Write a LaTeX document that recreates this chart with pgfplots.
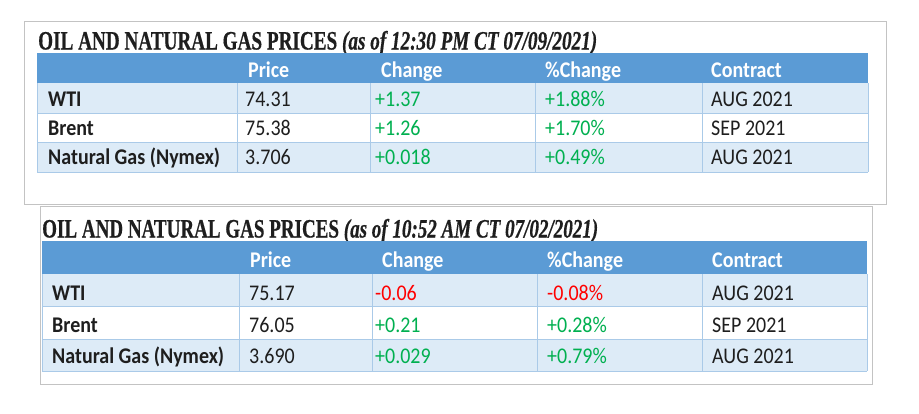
\documentclass[border=0pt]{standalone}
\usepackage{pgfplots}
\pgfplotsset{compat=1.18}
\usepackage{fontspec}
\setmainfont{Carlito}
\newfontfamily\titlefont[FakeBold=0.6]{Liberation Serif}
\definecolor{hdr}{RGB}{91,155,213}
\definecolor{rowb}{RGB}{221,235,247}
\definecolor{gridc}{RGB}{170,202,232}
\definecolor{posg}{RGB}{0,176,80}
\definecolor{negr}{RGB}{255,0,0}
\definecolor{txt}{RGB}{30,30,30}
\definecolor{framec}{RGB}{195,195,195}
\newcommand{\cf}[1]{\scalebox{1}[1.12]{\fontsize{20}{24}\selectfont #1}}
\newcommand{\ttl}[2]{\resizebox{#1}{\height}{\titlefont\fontsize{26.5}{30}\selectfont\bfseries OIL AND NATURAL GAS PRICES \itshape(as of #2)}}
\begin{document}
\begin{tikzpicture}
\begin{axis}[scale only axis, width=919pt, height=413pt, xmin=0, xmax=919, ymin=0, ymax=413,
  y dir=reverse, hide axis, clip=false]
\fill[white] (axis cs:0,0) rectangle (axis cs:919,413);
% ---------- top panel ----------
\draw[framec, line width=1pt] (axis cs:24,21) rectangle (axis cs:886,204);
\node[anchor=base west, inner sep=0pt, text=txt] at (axis cs:38,49.5) {\ttl{559pt}{12:30 PM CT 07/09/2021}};
\fill[hdr] (axis cs:37,53) rectangle (axis cs:868,83);
\fill[rowb] (axis cs:37,83) rectangle (axis cs:868,113);
\fill[white] (axis cs:37,113) rectangle (axis cs:868,142);
\fill[rowb] (axis cs:37,142) rectangle (axis cs:868,172);
\draw[gridc, line width=0.8pt] (axis cs:37,113) -- (axis cs:868,113);
\draw[gridc, line width=0.8pt] (axis cs:37,142) -- (axis cs:868,142);
\draw[gridc, line width=0.8pt] (axis cs:37,172) -- (axis cs:868,172);
\draw[gridc, line width=0.8pt] (axis cs:237,83) -- (axis cs:237,172);
\draw[gridc, line width=0.8pt] (axis cs:370,83) -- (axis cs:370,172);
\draw[gridc, line width=0.8pt] (axis cs:535,83) -- (axis cs:535,172);
\draw[gridc, line width=0.8pt] (axis cs:702,83) -- (axis cs:702,172);
\draw[gridc, line width=0.8pt] (axis cs:37,83) -- (axis cs:37,172);
\draw[gridc, line width=0.8pt] (axis cs:868,83) -- (axis cs:868,172);
\begin{scope}[every node/.style={anchor=base west, inner sep=0pt}]
\node[white] at (axis cs:248,77) {\cf{\bfseries Price}};
\node[white] at (axis cs:381,77) {\cf{\bfseries Change}};
\node[white] at (axis cs:545,77) {\cf{\bfseries \%Change}};
\node[white] at (axis cs:711,77) {\cf{\bfseries Contract}};
\node[txt] at (axis cs:48,106) {\cf{\bfseries WTI}};
\node[txt] at (axis cs:48,135) {\cf{\bfseries Brent}};
\node[txt] at (axis cs:48,164) {\cf{\bfseries Natural Gas (Nymex)}};
\node[txt] at (axis cs:245,106) {\cf{74.31}};
\node[txt] at (axis cs:245,135) {\cf{75.38}};
\node[txt] at (axis cs:245,164) {\cf{3.706}};
\node[posg] at (axis cs:375,106) {\cf{+1.37}};
\node[posg] at (axis cs:375,135) {\cf{+1.26}};
\node[posg] at (axis cs:375,164) {\cf{+0.018}};
\node[posg] at (axis cs:545,106) {\cf{+1.88\%}};
\node[posg] at (axis cs:545,135) {\cf{+1.70\%}};
\node[posg] at (axis cs:545,164) {\cf{+0.49\%}};
\node[txt] at (axis cs:711,106) {\cf{AUG 2021}};
\node[txt] at (axis cs:711,135) {\cf{SEP 2021}};
\node[txt] at (axis cs:711,164) {\cf{AUG 2021}};
\end{scope}
% ---------- bottom panel ----------
\draw[framec, line width=1pt] (axis cs:40,206) rectangle (axis cs:872,384);
\node[anchor=base west, inner sep=0pt, text=txt] at (axis cs:42,237.5) {\ttl{556pt}{10:52 AM CT 07/02/2021}};
\fill[hdr] (axis cs:42,241) rectangle (axis cs:867,274);
\fill[rowb] (axis cs:42,274) rectangle (axis cs:867,306);
\fill[white] (axis cs:42,306) rectangle (axis cs:867,339);
\fill[rowb] (axis cs:42,339) rectangle (axis cs:867,371);
\draw[gridc, line width=0.8pt] (axis cs:42,306) -- (axis cs:867,306);
\draw[gridc, line width=0.8pt] (axis cs:42,339) -- (axis cs:867,339);
\draw[gridc, line width=0.8pt] (axis cs:42,371) -- (axis cs:867,371);
\draw[gridc, line width=0.8pt] (axis cs:239,274) -- (axis cs:239,371);
\draw[gridc, line width=0.8pt] (axis cs:372,274) -- (axis cs:372,371);
\draw[gridc, line width=0.8pt] (axis cs:537,274) -- (axis cs:537,371);
\draw[gridc, line width=0.8pt] (axis cs:702,274) -- (axis cs:702,371);
\draw[gridc, line width=0.8pt] (axis cs:42,274) -- (axis cs:42,371);
\draw[gridc, line width=0.8pt] (axis cs:867,274) -- (axis cs:867,371);
\begin{scope}[every node/.style={anchor=base west, inner sep=0pt}]
\node[white] at (axis cs:250,267) {\cf{\bfseries Price}};
\node[white] at (axis cs:382,267) {\cf{\bfseries Change}};
\node[white] at (axis cs:547,267) {\cf{\bfseries \%Change}};
\node[white] at (axis cs:712,267) {\cf{\bfseries Contract}};
\node[txt] at (axis cs:52,300) {\cf{\bfseries WTI}};
\node[txt] at (axis cs:52,332) {\cf{\bfseries Brent}};
\node[txt] at (axis cs:52,363) {\cf{\bfseries Natural Gas (Nymex)}};
\node[txt] at (axis cs:249,300) {\cf{75.17}};
\node[txt] at (axis cs:249,332) {\cf{76.05}};
\node[txt] at (axis cs:249,363) {\cf{3.690}};
\node[negr] at (axis cs:375,300) {\cf{-0.06}};
\node[posg] at (axis cs:375,332) {\cf{+0.21}};
\node[posg] at (axis cs:375,363) {\cf{+0.029}};
\node[negr] at (axis cs:547,300) {\cf{-0.08\%}};
\node[posg] at (axis cs:547,332) {\cf{+0.28\%}};
\node[posg] at (axis cs:547,363) {\cf{+0.79\%}};
\node[txt] at (axis cs:712,300) {\cf{AUG 2021}};
\node[txt] at (axis cs:712,332) {\cf{SEP 2021}};
\node[txt] at (axis cs:712,363) {\cf{AUG 2021}};
\end{scope}
\end{axis}
\end{tikzpicture}
\end{document}
